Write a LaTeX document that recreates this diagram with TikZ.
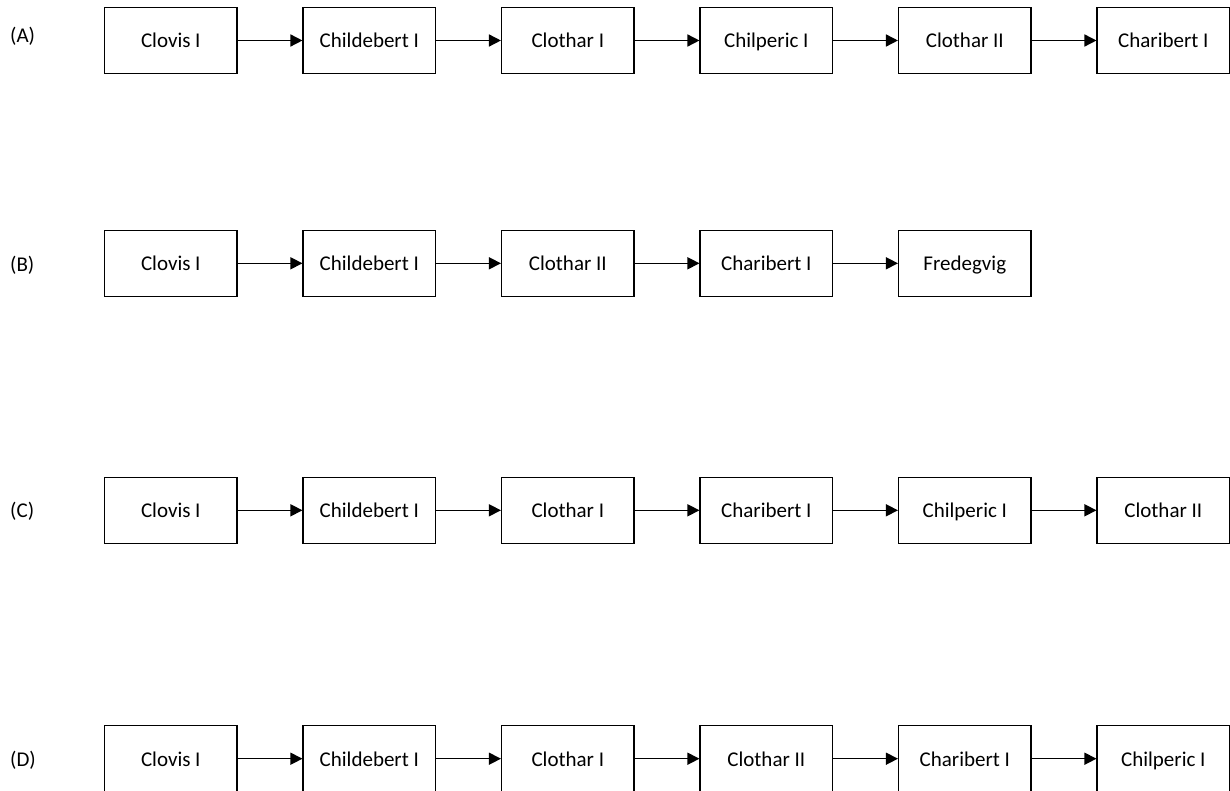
\documentclass[tikz,border=0pt]{standalone}
\usepackage{fontspec}
\setmainfont{Carlito}
\usetikzlibrary{arrows.meta}
\begin{document}
\begin{tikzpicture}[x=1pt,y=-1pt,
  box/.style={draw=black,line width=1.2pt,minimum width=132.5pt,minimum height=66pt,inner sep=0pt,text height=17pt,text depth=2pt,font=\fontsize{21}{25}\selectfont},
  lbl/.style={anchor=west,inner sep=0pt,text height=17pt,text depth=2pt,font=\fontsize{21}{25}\selectfont},
  conn/.style={line width=1.5pt,-{Triangle[length=12pt,width=12pt]}}]
\useasboundingbox (0,0) rectangle (1230,791);
% Row A
\node[lbl] (la) at (10,35) {(A)};
\node[box] (a1) at (170.8,40.5) {Clovis I};
\node[box] (a2) at (369.3,40.5) {Childebert I};
\node[box] (a3) at (567.8,40.5) {Clothar I};
\node[box] (a4) at (766.3,40.5) {Chilperic I};
\node[box] (a5) at (964.8,40.5) {Clothar II};
\node[box] (a6) at (1163.3,40.5) {Charibert I};
\foreach \i/\j in {a1/a2,a2/a3,a3/a4,a4/a5,a5/a6} \draw[conn] (\i) -- (\j);
% Row B
\node[lbl] (lb) at (10,264) {(B)};
\node[box] (b1) at (170.8,263.3) {Clovis I};
\node[box] (b2) at (369.3,263.3) {Childebert I};
\node[box] (b3) at (567.8,263.3) {Clothar II};
\node[box] (b4) at (766.3,263.3) {Charibert I};
\node[box] (b5) at (964.8,263.3) {Fredegvig};
\foreach \i/\j in {b1/b2,b2/b3,b3/b4,b4/b5} \draw[conn] (\i) -- (\j);
% Row C
\node[lbl] (lc) at (10,510.3) {(C)};
\node[box] (c1) at (170.8,510.3) {Clovis I};
\node[box] (c2) at (369.3,510.3) {Childebert I};
\node[box] (c3) at (567.8,510.3) {Clothar I};
\node[box] (c4) at (766.3,510.3) {Charibert I};
\node[box] (c5) at (964.8,510.3) {Chilperic I};
\node[box] (c6) at (1163.3,510.3) {Clothar II};
\foreach \i/\j in {c1/c2,c2/c3,c3/c4,c4/c5,c5/c6} \draw[conn] (\i) -- (\j);
% Row D
\node[lbl] (ld) at (10,758.7) {(D)};
\node[box] (d1) at (170.8,758.7) {Clovis I};
\node[box] (d2) at (369.3,758.7) {Childebert I};
\node[box] (d3) at (567.8,758.7) {Clothar I};
\node[box] (d4) at (766.3,758.7) {Clothar II};
\node[box] (d5) at (964.8,758.7) {Charibert I};
\node[box] (d6) at (1163.3,758.7) {Chilperic I};
\foreach \i/\j in {d1/d2,d2/d3,d3/d4,d4/d5,d5/d6} \draw[conn] (\i) -- (\j);
\end{tikzpicture}
\end{document}
